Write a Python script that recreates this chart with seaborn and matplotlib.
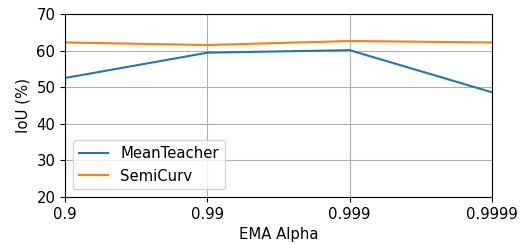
import matplotlib
matplotlib.use("Agg")
from matplotlib import pyplot as plt
import pandas as pd
import seaborn as sns

alphas = ["0.9", "0.99", "0.999", "0.9999"]
mean_teacher = [52.5, 59.4, 60.1, 48.6]
semicurv = [62.2, 61.5, 62.6, 62.2]

df = pd.DataFrame({
    "pos": list(range(len(alphas))) * 2,
    "iou": mean_teacher + semicurv,
    "method": ["MeanTeacher"] * len(alphas) + ["SemiCurv"] * len(alphas),
})

plt.rcParams["font.size"] = 10.7

fig, ax = plt.subplots(figsize=(5.3, 2.44), dpi=100)
sns.lineplot(data=df, x="pos", y="iou", hue="method",
             palette=["#1f77b4", "#ff7f0e"], linewidth=1.5, ax=ax)

ax.set_xticks(range(len(alphas)))
ax.set_xticklabels(alphas)
ax.set_xlim(0, len(alphas) - 1)
ax.set_ylim(20, 70)
ax.grid(True, color="#b0b0b0", linewidth=0.8)
ax.set_xlabel("EMA Alpha")
ax.set_ylabel("IoU (%)")
ax.legend(loc="lower left", title=None)

plt.subplots_adjust(left=0.123, right=0.928, top=0.943, bottom=0.193)
plt.savefig("out.png")
